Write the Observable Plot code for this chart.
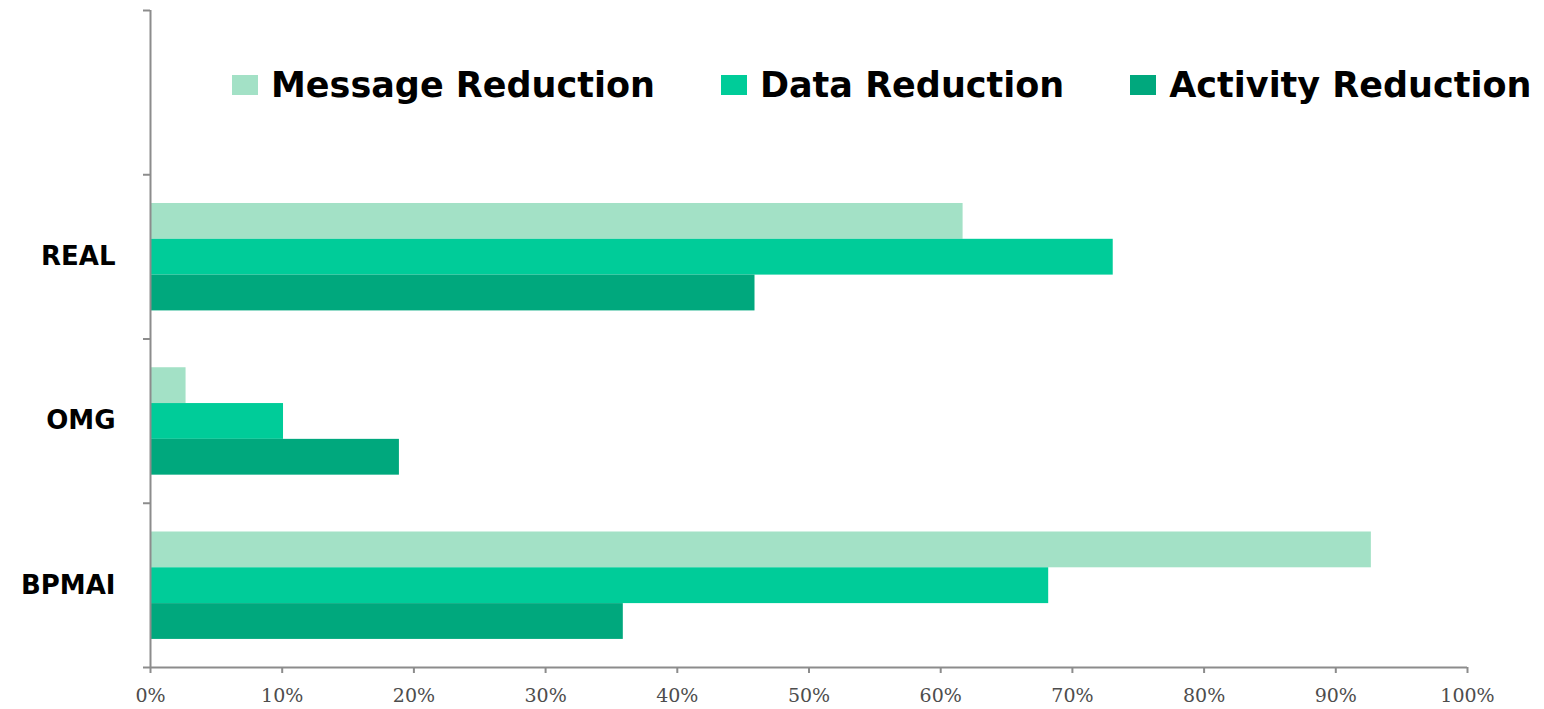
<!DOCTYPE html>
<html>
<head>
<meta charset="utf-8">
<script src="https://cdn.jsdelivr.net/npm/d3@7"></script>
<script src="https://cdn.jsdelivr.net/npm/@observablehq/plot@0.6"></script>
<style>
  html, body { margin: 0; padding: 0; background: #fff; }
  #wrap { position: relative; width: 1544px; height: 709px; }
  #legend { position: absolute; top: 65px; left: 232px; display: flex; align-items: center; height: 40px;
            font-family: "DejaVu Sans", sans-serif; font-weight: bold; font-size: 35px; color: #000; }
  .item { display: flex; align-items: center; white-space: nowrap; }
  .item:nth-child(1) { margin-right: 66px; }
  .item:nth-child(2) { margin-right: 66px; }
  .sw { width: 26px; height: 20px; margin-right: 13px; }
</style>
</head>
<body>
<div id="wrap"></div>
<script>
// Data
const categories = ["REAL", "OMG", "BPMAI"];
const seriesNames = ["Message Reduction", "Data Reduction", "Activity Reduction"];
const seriesColors = ["#a3e1c6", "#00cc99", "#00a87d"];
const messageReduction = [61.7, 2.7, 92.7];
const dataReduction = [73.1, 10.1, 68.2];
const activityReduction = [45.9, 18.9, 35.9];
const xTicks = [0, 10, 20, 30, 40, 50, 60, 70, 80, 90, 100];

const seriesValues = [messageReduction, dataReduction, activityReduction];
const rows = [];
categories.forEach((c, i) => {
  seriesValues.forEach((vals, k) => {
    rows.push({cat: c, ci: i + 1, series: seriesNames[k], k, value: vals[i]});
  });
});

const gap = 0.175, barH = 0.218;
const nBands = categories.length + 1;
const axisColor = "#8c8c8c";

const chart = Plot.plot({
  width: 1544,
  height: 709,
  marginLeft: 150,
  marginRight: 77,
  marginTop: 10,
  marginBottom: 42,
  x: {domain: [0, 100], label: null},
  y: {domain: [0, nBands], reverse: true, label: null},
  color: {domain: seriesNames, range: seriesColors},
  marks: [
    Plot.rect(rows, {
      x1: 0, x2: "value",
      y1: d => d.ci + gap + barH * d.k,
      y2: d => d.ci + gap + barH * (d.k + 1),
      fill: "series"
    }),
    Plot.ruleX([0], {stroke: axisColor, strokeWidth: 2}),
    Plot.ruleY([nBands], {stroke: axisColor, strokeWidth: 2}),
    Plot.axisY({ticks: d3.range(0, nBands + 1), tickSize: 7, tickFormat: () => "", label: null, stroke: axisColor, strokeWidth: 2}),
    Plot.axisY({
      ticks: categories.map((c, i) => i + 1.5),
      tickFormat: d => categories[Math.round(d - 1.5)],
      tickSize: 0, tickPadding: 35, label: null,
      fontSize: 26, fontWeight: "bold", fontFamily: "DejaVu Sans", fill: "#000"
    }),
    Plot.axisX({
      ticks: xTicks, tickSize: 6, tickPadding: 15, label: null,
      tickFormat: d => d + "%",
      stroke: axisColor, strokeWidth: 2,
      fontSize: 19, fontFamily: "DejaVu Serif", fill: "#4d4d4d"
    })
  ]
});

d3.select(chart).selectAll('g[aria-label="x-axis tick label"]')
  .attr("font-size", 19).attr("font-family", "DejaVu Serif").attr("fill", "#4d4d4d");

const wrap = document.getElementById("wrap");
wrap.appendChild(chart);

const legend = document.createElement("div");
legend.id = "legend";
seriesNames.forEach((s, k) => {
  const item = document.createElement("div");
  item.className = "item";
  const sw = document.createElement("div");
  sw.className = "sw";
  sw.style.background = seriesColors[k];
  const t = document.createElement("span");
  t.textContent = s;
  item.appendChild(sw);
  item.appendChild(t);
  legend.appendChild(item);
});
wrap.appendChild(legend);
</script>
</body>
</html>
